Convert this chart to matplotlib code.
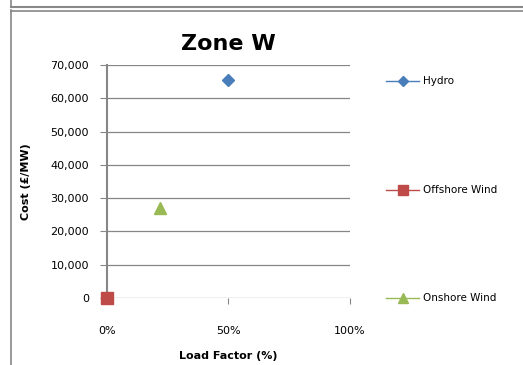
import matplotlib.pyplot as plt
from matplotlib.lines import Line2D

# data
series = ["Hydro", "Offshore Wind", "Onshore Wind"]
load_factor = [0.50, 0.0, 0.22]
cost = [65500, 0, 27000]
colors = ["#4a7ebb", "#be4b48", "#98b954"]
markers = ["D", "s", "^"]
msizes = [6, 8, 8]

yticks = [0, 10000, 20000, 30000, 40000, 50000, 60000, 70000]
xticks = [0, 0.5, 1.0]
xticklabels = ["0%", "50%", "100%"]

fig = plt.figure(figsize=(5.23, 3.65), dpi=100)
W, H = 523, 365

# frame lines from the document
fig.add_artist(Line2D([10.5 / W, 10.5 / W], [0, 1 - 10 / H], color="#888888", lw=1.2))
fig.add_artist(Line2D([10.5 / W, 1], [1 - 10.5 / H, 1 - 10.5 / H], color="#888888", lw=1.2))
fig.add_artist(Line2D([10.5 / W, 10.5 / W], [1, 1 - 7 / H], color="#888888", lw=1.2))
fig.add_artist(Line2D([10.5 / W, 1], [1 - 6.5 / H, 1 - 6.5 / H], color="#888888", lw=1.5))

ax = fig.add_axes([107 / W, (H - 298) / H, (350 - 107) / W, (298 - 65) / H])
for y in yticks:
    ax.axhline(y, color="#868686", lw=0.9, zorder=0)
for s in ["top", "right", "bottom"]:
    ax.spines[s].set_visible(False)
ax.spines["left"].set_color("#868686")
ax.spines["left"].set_linewidth(1.5)

for i in range(len(series)):
    ax.plot([load_factor[i]], [cost[i]], marker=markers[i], color=colors[i],
            markersize=msizes[i], linestyle="none", clip_on=False, zorder=3)

ax.set_xlim(0, 1)
ax.set_ylim(0, 70000)
ax.set_yticks(yticks)
ax.set_yticklabels(["{:,}".format(v) for v in yticks])
ax.set_xticks(xticks)
ax.set_xticklabels(xticklabels)
ax.tick_params(axis="y", length=5, color="#868686", labelsize=8, pad=8)
ax.tick_params(axis="x", length=4, color="#868686", labelsize=8, pad=16, direction="out")
ax.set_title("Zone W", fontsize=16, fontweight="bold", pad=11)
ax.set_xlabel("Load Factor (%)", fontsize=8, fontweight="bold", labelpad=11)
ax.set_ylabel("Cost (£/MW)", fontsize=8, fontweight="bold", labelpad=14)

# legend entries spread down the right side, as in the original
leg_y = [81, 190, 298]
for i in range(len(series)):
    yy = 1 - leg_y[i] / H
    fig.add_artist(Line2D([386 / W, 419 / W], [yy, yy], color=colors[i], lw=1.0))
    fig.add_artist(Line2D([402.5 / W], [yy], marker=markers[i], color=colors[i],
                          markersize=msizes[i] - 1, linestyle="none"))
    fig.text(423 / W, yy, series[i], fontsize=7.5, va="center", ha="left")

fig.savefig("out.png", dpi=100)
